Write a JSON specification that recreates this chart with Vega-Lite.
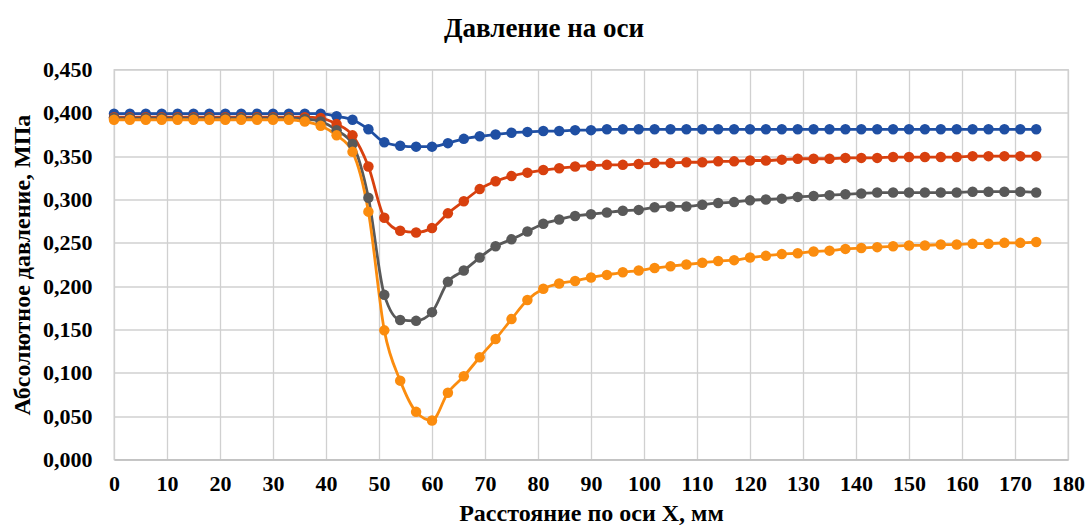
{
  "$schema": "https://vega.github.io/schema/vega-lite/v6.json",
  "width": 954,
  "height": 390,
  "autosize": "none",
  "padding": {"left": 114, "top": 69.5, "right": 20, "bottom": 70.5},
  "background": "white",
  "title": {"text": "Давление на оси", "font": "Liberation Serif", "fontSize": 27, "fontWeight": "bold", "color": "black", "frame": "group", "anchor": "middle", "dx": -47, "offset": 16},
  "data": {"values": [
    {"x": 0, "a": 0.399, "b": 0.395, "c": 0.394, "d": 0.392},
    {"x": 3, "a": 0.399, "b": 0.395, "c": 0.394, "d": 0.392},
    {"x": 6, "a": 0.399, "b": 0.395, "c": 0.394, "d": 0.392},
    {"x": 9, "a": 0.399, "b": 0.395, "c": 0.394, "d": 0.392},
    {"x": 12, "a": 0.399, "b": 0.395, "c": 0.394, "d": 0.392},
    {"x": 15, "a": 0.399, "b": 0.395, "c": 0.394, "d": 0.392},
    {"x": 18, "a": 0.399, "b": 0.395, "c": 0.394, "d": 0.392},
    {"x": 21, "a": 0.399, "b": 0.395, "c": 0.394, "d": 0.392},
    {"x": 24, "a": 0.399, "b": 0.395, "c": 0.394, "d": 0.392},
    {"x": 27, "a": 0.399, "b": 0.395, "c": 0.394, "d": 0.392},
    {"x": 30, "a": 0.399, "b": 0.395, "c": 0.394, "d": 0.392},
    {"x": 33, "a": 0.399, "b": 0.395, "c": 0.394, "d": 0.392},
    {"x": 36, "a": 0.399, "b": 0.395, "c": 0.393, "d": 0.390},
    {"x": 39, "a": 0.399, "b": 0.394, "c": 0.390, "d": 0.385},
    {"x": 42, "a": 0.396, "b": 0.387, "c": 0.380, "d": 0.374},
    {"x": 45, "a": 0.392, "b": 0.374, "c": 0.364, "d": 0.355},
    {"x": 48, "a": 0.381, "b": 0.338, "c": 0.302, "d": 0.286},
    {"x": 51, "a": 0.366, "b": 0.279, "c": 0.190, "d": 0.149},
    {"x": 54, "a": 0.362, "b": 0.264, "c": 0.161, "d": 0.091},
    {"x": 57, "a": 0.361, "b": 0.262, "c": 0.160, "d": 0.055},
    {"x": 60, "a": 0.361, "b": 0.267, "c": 0.170, "d": 0.045},
    {"x": 63, "a": 0.365, "b": 0.284, "c": 0.205, "d": 0.077},
    {"x": 66, "a": 0.370, "b": 0.298, "c": 0.218, "d": 0.096},
    {"x": 69, "a": 0.373, "b": 0.312, "c": 0.233, "d": 0.118},
    {"x": 72, "a": 0.375, "b": 0.321, "c": 0.246, "d": 0.139},
    {"x": 75, "a": 0.377, "b": 0.327, "c": 0.254, "d": 0.162},
    {"x": 78, "a": 0.378, "b": 0.331, "c": 0.263, "d": 0.184},
    {"x": 81, "a": 0.379, "b": 0.334, "c": 0.272, "d": 0.197},
    {"x": 84, "a": 0.379, "b": 0.336, "c": 0.277, "d": 0.203},
    {"x": 87, "a": 0.380, "b": 0.338, "c": 0.281, "d": 0.206},
    {"x": 90, "a": 0.380, "b": 0.339, "c": 0.283, "d": 0.210},
    {"x": 93, "a": 0.381, "b": 0.340, "c": 0.285, "d": 0.213},
    {"x": 96, "a": 0.381, "b": 0.340, "c": 0.287, "d": 0.216},
    {"x": 99, "a": 0.381, "b": 0.341, "c": 0.288, "d": 0.218},
    {"x": 102, "a": 0.381, "b": 0.342, "c": 0.291, "d": 0.221},
    {"x": 105, "a": 0.381, "b": 0.342, "c": 0.292, "d": 0.223},
    {"x": 108, "a": 0.381, "b": 0.343, "c": 0.292, "d": 0.225},
    {"x": 111, "a": 0.381, "b": 0.343, "c": 0.294, "d": 0.227},
    {"x": 114, "a": 0.381, "b": 0.344, "c": 0.296, "d": 0.229},
    {"x": 117, "a": 0.381, "b": 0.344, "c": 0.297, "d": 0.230},
    {"x": 120, "a": 0.381, "b": 0.345, "c": 0.299, "d": 0.233},
    {"x": 123, "a": 0.381, "b": 0.345, "c": 0.300, "d": 0.235},
    {"x": 126, "a": 0.381, "b": 0.346, "c": 0.301, "d": 0.237},
    {"x": 129, "a": 0.381, "b": 0.347, "c": 0.303, "d": 0.238},
    {"x": 132, "a": 0.381, "b": 0.347, "c": 0.304, "d": 0.240},
    {"x": 135, "a": 0.381, "b": 0.347, "c": 0.305, "d": 0.241},
    {"x": 138, "a": 0.381, "b": 0.348, "c": 0.306, "d": 0.243},
    {"x": 141, "a": 0.381, "b": 0.348, "c": 0.307, "d": 0.244},
    {"x": 144, "a": 0.381, "b": 0.348, "c": 0.308, "d": 0.245},
    {"x": 147, "a": 0.381, "b": 0.349, "c": 0.308, "d": 0.246},
    {"x": 150, "a": 0.381, "b": 0.349, "c": 0.308, "d": 0.247},
    {"x": 153, "a": 0.381, "b": 0.349, "c": 0.308, "d": 0.247},
    {"x": 156, "a": 0.381, "b": 0.349, "c": 0.308, "d": 0.248},
    {"x": 159, "a": 0.381, "b": 0.349, "c": 0.308, "d": 0.248},
    {"x": 162, "a": 0.381, "b": 0.350, "c": 0.309, "d": 0.249},
    {"x": 165, "a": 0.381, "b": 0.350, "c": 0.309, "d": 0.249},
    {"x": 168, "a": 0.381, "b": 0.350, "c": 0.309, "d": 0.250},
    {"x": 171, "a": 0.381, "b": 0.350, "c": 0.309, "d": 0.250},
    {"x": 174, "a": 0.381, "b": 0.350, "c": 0.308, "d": 0.251}
  ]},
  "transform": [{"fold": ["a", "b", "c", "d"], "as": ["series", "p"]}],
  "encoding": {
    "x": {"field": "x", "type": "quantitative",
      "scale": {"domain": [0, 180], "nice": false, "zero": false},
      "axis": {"title": "Расстояние по оси X, мм", "values": [0,10,20,30,40,50,60,70,80,90,100,110,120,130,140,150,160,170,180],
        "labelFont": "Liberation Serif", "labelFontSize": 22, "labelFontWeight": "bold", "labelColor": "black",
        "titleFont": "Liberation Serif", "titleFontSize": 24, "titleFontWeight": "bold", "titleColor": "black",
        "labelPadding": 14, "titlePadding": 7, "ticks": false, "domainColor": "#bfbfbf", "domainWidth": 1.5,
        "gridColor": "#d0d0d0", "gridWidth": 1.3, "labelFlush": false}},
    "y": {"field": "p", "type": "quantitative",
      "scale": {"domain": [0, 0.45], "nice": false},
      "axis": {"title": "Абсолютное давление, МПа", "values": [0,0.05,0.1,0.15,0.2,0.25,0.3,0.35,0.4,0.45],
        "labelExpr": "replace(format(datum.value, '.3f'), '.', ',')",
        "labelFont": "Liberation Serif", "labelFontSize": 22, "labelFontWeight": "bold", "labelColor": "black",
        "titleFont": "Liberation Serif", "titleFontSize": 24, "titleFontWeight": "bold", "titleColor": "black",
        "labelPadding": 22, "titlePadding": 8, "ticks": false, "domain": false,
        "gridColor": "#d0d0d0", "gridWidth": 1.3, "labelFlush": false}},
    "color": {"field": "series", "type": "nominal",
      "scale": {"domain": ["a", "b", "c", "d"], "range": ["#1f4fa3", "#d8400e", "#595959", "#fb8c0e"]},
      "legend": null}
  },
  "layer": [
    {"mark": {"type": "line", "interpolate": "monotone", "strokeWidth": 2.8}},
    {"mark": {"type": "point", "filled": true, "size": 110, "opacity": 1}}
  ],
  "config": {"view": {"stroke": "#d0d0d0", "strokeWidth": 1.3}}
}
